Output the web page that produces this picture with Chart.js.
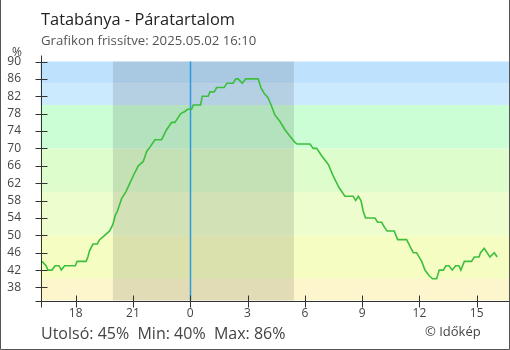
<!DOCTYPE html>
<html>
<head>
<meta charset="utf-8">
<script src="https://cdn.jsdelivr.net/npm/chart.js@4.4.1/dist/chart.umd.min.js"></script>
<style>
  html, body { margin: 0; padding: 0; background: #fff; }
  #wrap { width: 510px; height: 350px; }
</style>
</head>
<body>
<div id="wrap"><canvas id="humidity-chart" width="510" height="350"></canvas></div>
<script>
// Hours relative to midnight (negative = previous evening)
const hours = [
  -7.76, -7.55, -7.45, -7.24, -7.08, -6.87, -6.75, -6.58, -6.02, -5.92,
  -5.45, -5.36, -5.27, -5.09, -4.87, -4.74, -4.48, -4.22, -4.05, -3.93,
  -3.82, -3.59, -3.37, -3.16, -2.95, -2.72, -2.46, -2.28, -2.11, -1.85,
  -1.50, -1.24, -0.97, -0.80, -0.50, -0.28, -0.14, 0.07, 0.16, 0.54,
  0.63, 0.94, 1.03, 1.26, 1.38, 1.78, 1.91, 2.25, 2.38, 2.51,
  2.72, 2.90, 3.56, 3.70, 3.87, 4.08, 4.26, 4.43, 4.70, 4.96,
  5.22, 5.48, 5.60, 6.27, 6.44, 6.62, 6.88, 7.23, 7.49, 7.79,
  8.10, 8.53, 8.66, 8.80, 8.94, 9.06, 9.18, 9.67, 9.81, 10.02,
  10.19, 10.31, 10.68, 10.86, 11.33, 11.50, 11.68, 11.85, 12.12, 12.29,
  12.51, 12.69, 12.90, 13.04, 13.25, 13.39, 13.54, 13.72, 13.90, 14.07,
  14.17, 14.35, 14.73, 14.87, 15.12, 15.20, 15.39, 15.69, 15.92, 16.07
];
// Relative humidity, %
const humidity = [
  44, 43, 42, 42, 43, 43, 42, 43, 43, 44,
  44, 45, 46.5, 48, 48, 49, 50, 51, 52.5, 54.5,
  55.5, 58.5, 60, 62, 64, 66, 67, 69.3, 70.3, 72,
  72, 74.3, 76, 76, 78, 78.5, 79, 79, 80, 80,
  82, 82, 83, 83, 84, 84, 85, 85, 86, 86,
  85, 86, 86, 84, 82.7, 81.6, 79.7, 77.7, 76.2, 74.3,
  72.8, 71.4, 71, 71, 70, 70, 68.3, 66.3, 63.6, 61,
  59, 59, 58, 59, 58, 55.5, 54, 54, 53, 53,
  51.7, 51, 51, 49, 49, 47.5, 46, 46, 44, 42,
  40.7, 40, 40, 42, 42, 43, 43, 42, 43, 43,
  42, 44, 44, 45, 45, 46, 47, 45, 46, 45
];

const xTicks = [-6, -3, 0, 3, 6, 9, 12, 15];
const yTicks = [38, 42, 46, 50, 54, 58, 62, 66, 70, 74, 78, 82, 86, 90];

// humidity bands behind the plot
const bandEdges = [35, 40, 50, 60, 70, 80, 85, 90];
const bandColors = ['#fdf6cd', '#f6fdc3', '#eefdcd', '#ddfdcc', '#ccfed6', '#cbeafe', '#bee2fe'];

// sunset / sunrise (hours from midnight)
const nightStart = -4.05;
const nightEnd = 5.43;

const xMin = -7.84;
const xMax = 16.69;

const lastValue = 45;
const minValue = 40;
const maxValue = 86;

const textColor = '#444';

const backdrop = {
    id: 'backdrop',
    beforeDatasetsDraw(chart) {
        const { ctx, chartArea: a, scales: { x, y } } = chart;
        ctx.save();
        for (let i = 0; i < bandColors.length; i++) {
            const top = y.getPixelForValue(bandEdges[i + 1]);
            const bottom = y.getPixelForValue(bandEdges[i]);
            ctx.fillStyle = bandColors[i];
            ctx.fillRect(a.left, top, a.right - a.left, bottom - top);
        }
        // night
        const n0 = x.getPixelForValue(nightStart);
        const n1 = x.getPixelForValue(nightEnd);
        ctx.fillStyle = 'rgba(0,0,0,0.11)';
        ctx.fillRect(n0, a.top, n1 - n0, a.bottom - a.top);
        // midnight
        const mx = Math.round(x.getPixelForValue(0)) + 0.5;
        ctx.strokeStyle = '#2b9be0';
        ctx.lineWidth = 1.5;
        ctx.beginPath();
        ctx.moveTo(mx, a.top);
        ctx.lineTo(mx, a.bottom);
        ctx.stroke();
        ctx.restore();
    },
    afterDraw(chart) {
        const { ctx, chartArea: a, scales: { x, y } } = chart;
        ctx.save();
        // axes with ticks crossing both sides
        ctx.strokeStyle = '#333';
        ctx.lineWidth = 1;
        const left = Math.round(a.left) + 0.5;
        const bottom = Math.round(a.bottom) + 0.5;
        ctx.beginPath();
        ctx.moveTo(left, a.top - 6);
        ctx.lineTo(left, bottom + 6);
        ctx.moveTo(left - 6, bottom);
        ctx.lineTo(a.right, bottom);
        yTicks.forEach(v => {
            const py = Math.round(y.getPixelForValue(v)) + 0.5;
            ctx.moveTo(left - 6, py);
            ctx.lineTo(left + 6, py);
        });
        xTicks.forEach(v => {
            const px = Math.round(x.getPixelForValue(v)) + 0.5;
            ctx.moveTo(px, bottom - 6);
            ctx.lineTo(px, bottom + 6);
        });
        ctx.stroke();

        // frame
        ctx.strokeStyle = '#555';
        ctx.beginPath();
        ctx.moveTo(0.5, 0);
        ctx.lineTo(0.5, 349.5);
        ctx.lineTo(509.5, 349.5);
        ctx.lineTo(509.5, 0);
        ctx.stroke();

        // texts
        ctx.textBaseline = 'alphabetic';
        ctx.textAlign = 'left';
        ctx.fillStyle = '#222';
        ctx.font = '16.4px "Open Sans"';
        ctx.fillText('Tatabánya - Páratartalom', 41, 25);
        ctx.fillStyle = '#555';
        ctx.font = '13.2px "Open Sans"';
        ctx.fillText('Grafikon frissítve: 2025.05.02 16:10', 41, 45);
        ctx.fillStyle = textColor;
        ctx.font = '12px "Open Sans"';
        ctx.textAlign = 'center';
        ctx.fillText('%', 17, 56);
        ctx.textAlign = 'left';
        ctx.font = '16px "Open Sans"';
        ctx.fillText('Utolsó: ' + lastValue + '%  Min: ' + minValue + '%  Max: ' + maxValue + '%', 41, 339);
        ctx.font = '13px "Open Sans"';
        ctx.fillText('© Időkép', 425, 336);
        ctx.restore();
    }
};

const chartCanvas = document.getElementById('humidity-chart').getContext('2d');

const humidityChart = new Chart(chartCanvas, {
    type: 'line',
    data: {
        datasets: [{
            data: hours.map((h, i) => ({ x: h, y: humidity[i] })),
            borderColor: '#3cbf3c',
            borderWidth: 1.6,
            pointRadius: 0,
            tension: 0,
            fill: false
        }]
    },
    options: {
        responsive: false,
        animation: false,
        events: [],
        layout: {
            padding: { top: 61.5, right: 1, bottom: 19.5, left: 0 }
        },
        plugins: {
            legend: { display: false },
            tooltip: { enabled: false }
        },
        scales: {
            x: {
                type: 'linear',
                min: xMin,
                max: xMax,
                afterBuildTicks: s => { s.ticks = xTicks.map(v => ({ value: v })); },
                afterFit: s => { s.height = 30; },
                grid: { display: false, drawTicks: false },
                border: { display: false },
                ticks: {
                    padding: 6,
                    color: textColor,
                    font: { family: 'Open Sans', size: 12 },
                    maxRotation: 0,
                    callback: v => String((v + 24) % 24)
                }
            },
            y: {
                min: 35,
                max: 90,
                afterBuildTicks: s => { s.ticks = yTicks.map(v => ({ value: v })); },
                afterFit: s => { s.width = 40.5; },
                grid: { display: false, drawTicks: false },
                border: { display: false },
                ticks: {
                    padding: 19.5,
                    color: textColor,
                    font: { family: 'Open Sans', size: 12 }
                }
            }
        }
    },
    plugins: [backdrop]
});
</script>
</body>
</html>
